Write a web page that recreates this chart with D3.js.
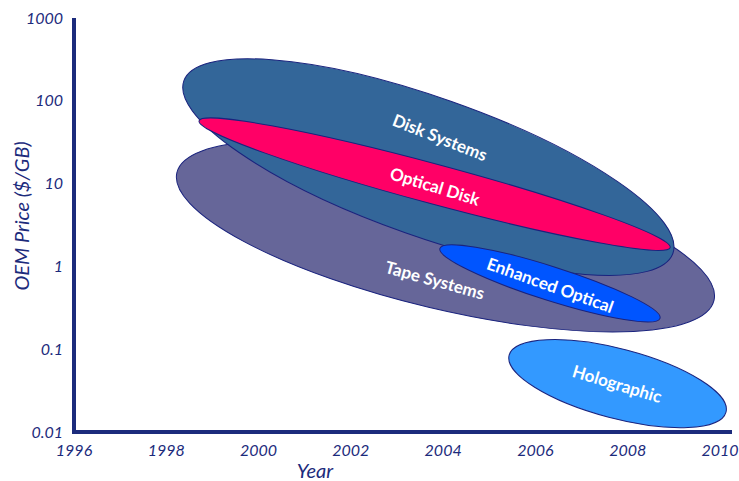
<!DOCTYPE html>
<html>
<head>
  <meta charset="utf-8" />
  <script src="https://d3js.org/d3.v7.min.js"></script>
  <style>
    * { margin: 0; padding: 0; }
    body { background: #fff; }
    svg { display: block; }
  </style>
</head>
<body>
  <svg width="739" height="481"></svg>

  <script>
    // technology regions: tips of the long axis (year, $/GB) and half width in decades
    const techNames = ["Tape Systems", "Disk Systems", "Optical Disk", "Enhanced Optical", "Holographic"];
    const startYear = [1998.23, 1998.38, 1998.71, 2003.93, 2005.43];
    const startPrice = [13.6, 174, 57.4, 1.65, 0.0848];
    const endYear = [2009.87, 2008.98, 2008.92, 2008.70, 2010.13];
    const endPrice = [0.389, 1.44, 1.69, 0.236, 0.0174];
    const halfWidthDecades = [0.88, 0.84, 0.24, 0.205, 0.42];
    const labelYear = [2003.82, 2003.93, 2003.82, 2006.32, 2007.77];
    const labelPrice = [0.678, 35.8, 9.2, 0.59, 0.0379];
    const fills = ["#666699", "#336699", "#ff0066", "#0055ff", "#3399ff"];

    const yearTicks = [1996, 1998, 2000, 2002, 2004, 2006, 2008, 2010];
    const priceTicks = [1000, 100, 10, 1, 0.1, 0.01];
    const priceTickLabels = ["1000", "100", "10", "1", "0.1", "0.01"];

    const ink = "#1c2b7c";
    const svg = d3.select("svg");

    const x = d3.scaleLinear().domain([1996, 2010]).range([74, 720]);
    const y = d3.scaleLog().domain([0.01, 1000]).range([432, 18]);
    const pxPerDecade = (y(0.01) - y(1000)) / 5;

    const regions = techNames.map((name, i) => {
      const x0 = x(startYear[i]), y0 = y(startPrice[i]);
      const x1 = x(endYear[i]), y1 = y(endPrice[i]);
      return {
        name,
        fill: fills[i],
        cx: (x0 + x1) / 2,
        cy: (y0 + y1) / 2,
        rx: Math.hypot(x1 - x0, y1 - y0) / 2,
        ry: halfWidthDecades[i] * pxPerDecade,
        angle: Math.atan2(y1 - y0, x1 - x0) * 180 / Math.PI,
        lx: x(labelYear[i]),
        ly: y(labelPrice[i])
      };
    });

    // ellipses
    svg.append("g")
      .selectAll("ellipse")
      .data(regions)
      .join("ellipse")
      .attr("cx", d => d.cx)
      .attr("cy", d => d.cy)
      .attr("rx", d => d.rx)
      .attr("ry", d => d.ry)
      .attr("transform", d => `rotate(${d.angle} ${d.cx} ${d.cy})`)
      .attr("fill", d => d.fill)
      .attr("stroke", "#1a237e")
      .attr("stroke-width", 1);

    // region labels
    svg.append("g")
      .selectAll("text")
      .data(regions)
      .join("text")
      .attr("transform", d => `translate(${d.lx},${d.ly}) rotate(${d.angle + 2})`)
      .attr("text-anchor", "middle")
      .attr("dy", "0.35em")
      .attr("fill", "#fff")
      .style("font-family", "Lato, 'Open Sans', sans-serif")
      .style("font-weight", "bold")
      .style("font-size", "17px")
      .text(d => d.name);

    // axes
    svg.append("line")
      .attr("x1", x(1996)).attr("x2", x(1996))
      .attr("y1", y(1000)).attr("y2", y(0.01) + 2)
      .attr("stroke", ink).attr("stroke-width", 4);

    svg.append("line")
      .attr("x1", x(1996) - 2).attr("x2", x(2010) + 12)
      .attr("y1", y(0.01)).attr("y2", y(0.01))
      .attr("stroke", ink).attr("stroke-width", 4);

    const tickFont = "Lato, 'Open Sans', sans-serif";

    svg.append("g")
      .selectAll("text")
      .data(yearTicks)
      .join("text")
      .attr("x", d => x(d))
      .attr("y", y(0.01) + 24)
      .attr("text-anchor", "middle")
      .attr("fill", ink)
      .style("font-family", tickFont)
      .style("font-style", "italic")
      .style("font-size", "16px")
      .text(d => d);

    svg.append("g")
      .selectAll("text")
      .data(priceTicks)
      .join("text")
      .attr("x", x(1996) - 11)
      .attr("y", d => y(d))
      .attr("dy", "0.35em")
      .attr("text-anchor", "end")
      .attr("fill", ink)
      .style("font-family", tickFont)
      .style("font-style", "italic")
      .style("font-size", "16px")
      .text((d, i) => priceTickLabels[i]);

    // axis titles
    svg.append("text")
      .attr("x", 315)
      .attr("y", 478)
      .attr("text-anchor", "middle")
      .attr("fill", ink)
      .style("font-family", tickFont)
      .style("font-style", "italic")
      .style("font-size", "20px")
      .text("Year");

    svg.append("text")
      .attr("transform", "translate(29,216) rotate(-90)")
      .attr("text-anchor", "middle")
      .attr("fill", ink)
      .style("font-family", tickFont)
      .style("font-style", "italic")
      .style("font-size", "20px")
      .text("OEM Price ($/GB)");
  </script>
</body>
</html>
